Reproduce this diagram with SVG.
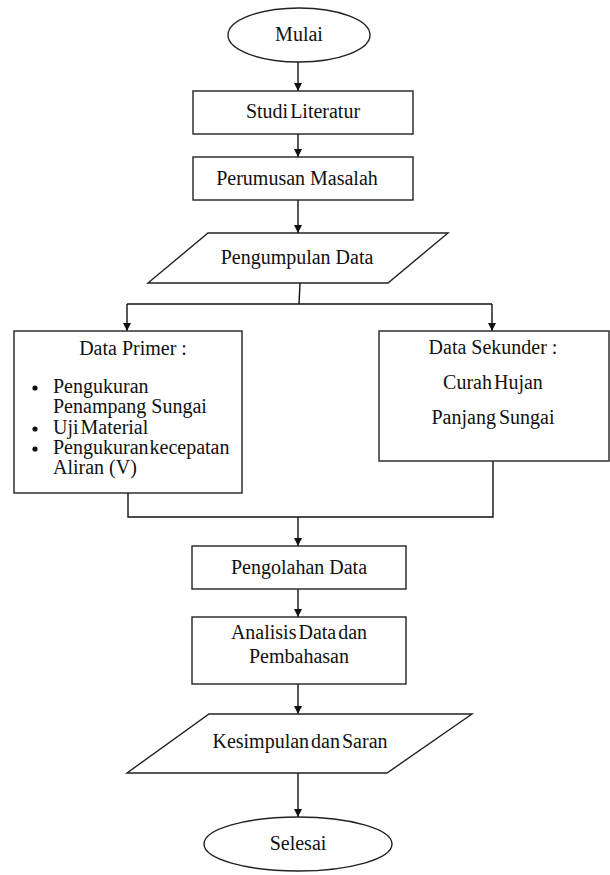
<svg xmlns="http://www.w3.org/2000/svg" width="610" height="875" viewBox="0 0 610 875">
<style>
.s{fill:#fff;stroke:#222;stroke-width:1.4}
.c{fill:none;stroke:#111;stroke-width:1.4}
text{font-family:'Liberation Serif','DejaVu Serif',serif;font-size:20px;fill:#111}
.m{text-anchor:middle}
</style>
<defs>
<marker id="ah" viewBox="0 0 10 10" refX="10" refY="5" markerWidth="8" markerHeight="8" markerUnits="userSpaceOnUse" orient="auto">
<path d="M0,0 L10,5 L0,10 z" fill="#111"/>
</marker>
</defs>
<rect width="610" height="875" fill="#fff"/>
<g id="connectors">
<line class="c" x1="298" y1="62" x2="298" y2="91" marker-end="url(#ah)"/>
<line class="c" x1="298" y1="134" x2="298" y2="157" marker-end="url(#ah)"/>
<line class="c" x1="298" y1="200" x2="298" y2="233" marker-end="url(#ah)"/>
<polyline class="c" points="300,283 299,304"/>
<line class="c" x1="127" y1="304" x2="492" y2="304"/>
<line class="c" x1="127" y1="304" x2="127" y2="331" marker-end="url(#ah)"/>
<line class="c" x1="492" y1="304" x2="492" y2="331" marker-end="url(#ah)"/>
<polyline class="c" points="128,493 128,517 493,517 493,461"/>
<line class="c" x1="298" y1="517" x2="298" y2="546" marker-end="url(#ah)"/>
<line class="c" x1="298" y1="589" x2="298" y2="617" marker-end="url(#ah)"/>
<line class="c" x1="298" y1="684" x2="298" y2="714" marker-end="url(#ah)"/>
<line class="c" x1="298" y1="773" x2="298" y2="817" marker-end="url(#ah)"/>
</g>
<g id="mulai">
<ellipse class="s" cx="299" cy="35" rx="71" ry="27"/>
<text class="m" x="299" y="41" font-family="Liberation Serif, serif">Mulai</text>
</g>
<g id="studi">
<rect class="s" x="193" y="91" width="220" height="43"/>
<text class="m" x="303" y="118" word-spacing="-3">Studi Literatur</text>
</g>
<g id="perumusan">
<rect class="s" x="193" y="157" width="220" height="43"/>
<text class="m" x="297" y="185">Perumusan Masalah</text>
</g>
<g id="pengumpulan">
<polygon class="s" points="208,233 448,233 388,283 148,283"/>
<text class="m" x="297" y="264">Pengumpulan Data</text>
</g>
<g id="primer">
<rect class="s" x="14" y="331" width="228" height="162"/>
<text class="m" x="133" y="355">Data Primer :</text>
<circle cx="35" cy="388" r="2.6" fill="#111"/>
<text x="53" y="393">Pengukuran</text>
<text x="53" y="413">Penampang Sungai</text>
<circle cx="35" cy="429" r="2.6" fill="#111"/>
<text x="53" y="434" word-spacing="-3">Uji Material</text>
<circle cx="35" cy="449" r="2.6" fill="#111"/>
<text x="53" y="454" word-spacing="-4">Pengukuran kecepatan</text>
<text x="53" y="474">Aliran (V)</text>
</g>
<g id="sekunder">
<rect class="s" x="379" y="331" width="230" height="130"/>
<text class="m" x="493" y="354">Data Sekunder :</text>
<text class="m" x="493" y="389" word-spacing="-3">Curah Hujan</text>
<text class="m" x="493" y="424" word-spacing="-2">Panjang Sungai</text>
</g>
<g id="pengolahan">
<rect class="s" x="192" y="546" width="214" height="43"/>
<text class="m" x="299" y="574">Pengolahan Data</text>
</g>
<g id="analisis">
<rect class="s" x="192" y="617" width="214" height="67"/>
<text class="m" x="299" y="639" word-spacing="-3">Analisis Data dan</text>
<text class="m" x="299" y="663">Pembahasan</text>
</g>
<g id="kesimpulan">
<polygon class="s" points="209,714 472,714 387,773 127,773"/>
<text class="m" x="300" y="748" word-spacing="-3">Kesimpulan dan Saran</text>
</g>
<g id="selesai">
<ellipse class="s" cx="298" cy="844" rx="94" ry="27"/>
<text class="m" x="298" y="850">Selesai</text>
</g>
</svg>
